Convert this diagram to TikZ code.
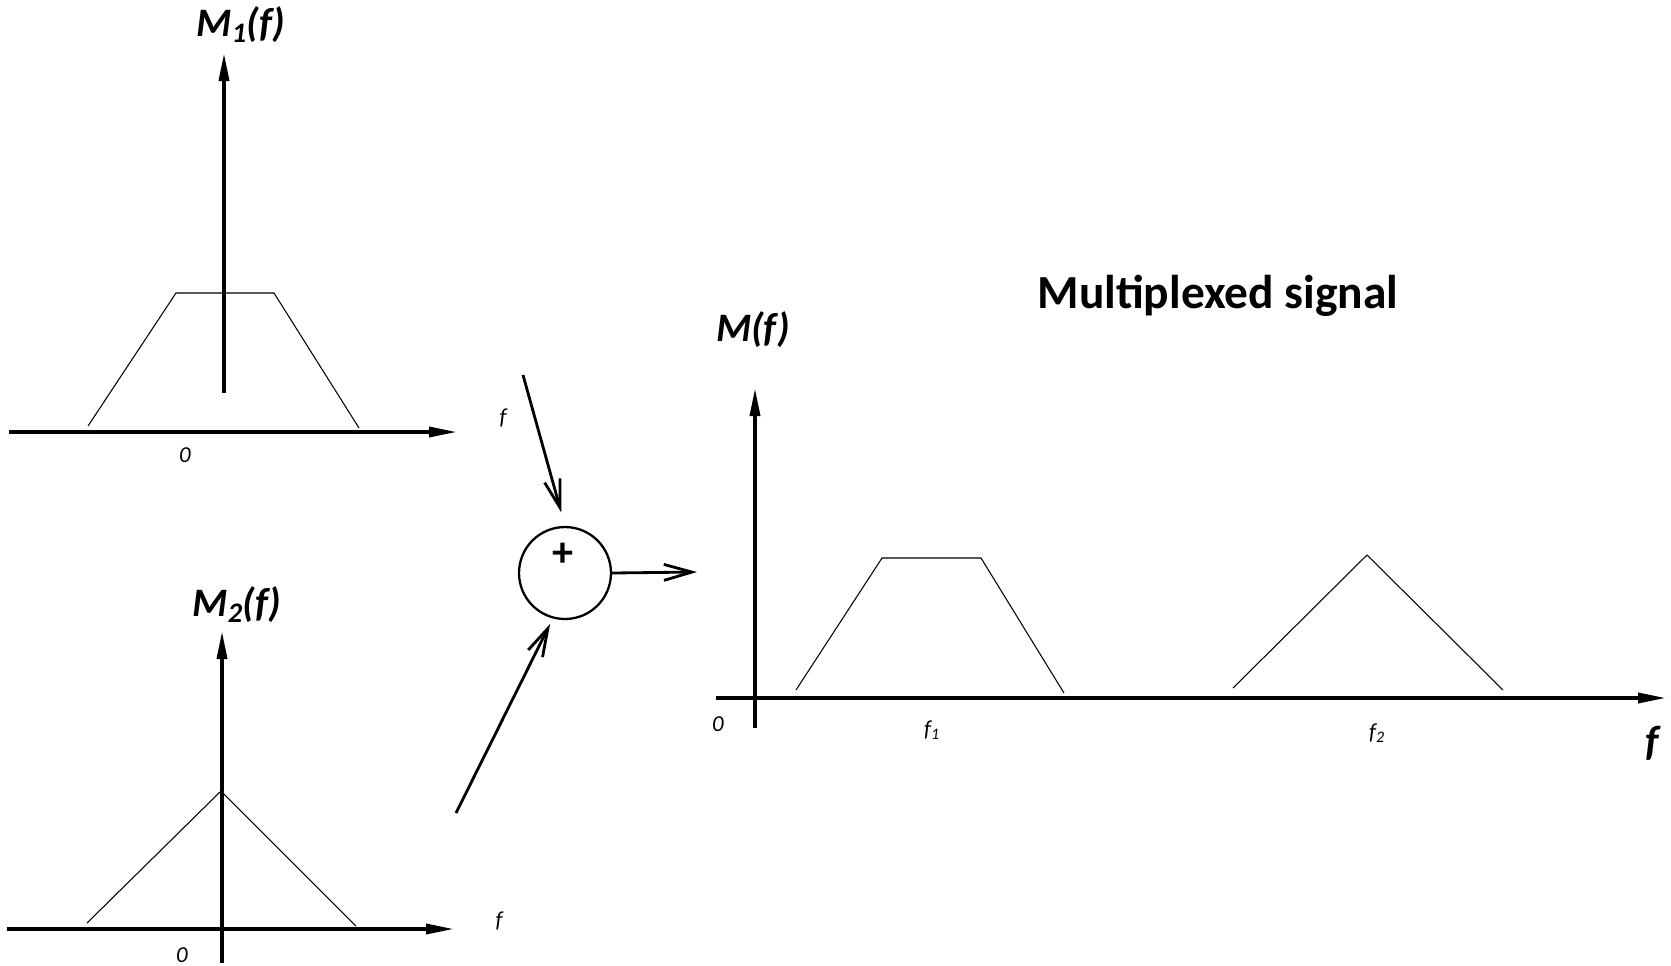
\documentclass[tikz,border=0pt]{standalone}
\usepackage{fontspec}
\setmainfont{Carlito}
\usetikzlibrary{arrows.meta,positioning,calc}

\tikzset{
  axisline/.style={line width=2pt,-{Triangle[length=5.6mm,width=2mm]}},
  spectrum/.style={line width=0.6pt},
  feed/.style={line width=1.6pt,-{Straight Barb[length=5.6mm,width=3.2mm]}},
  adder/.style={circle,draw,line width=1.3pt,minimum size=1.84cm,inner sep=0pt},
  biglabel/.style={font=\fontsize{23}{27}\selectfont\bfseries\itshape,anchor=base},
  ticklabel/.style={font=\fontsize{13}{15}\selectfont\itshape},
}

\begin{document}
\begin{tikzpicture}[x=0.02cm,y=-0.02cm]
  \useasboundingbox (0,0) rectangle (1671,965);
  % upper spectrum M1
  \coordinate (h1s) at (9,432);   \coordinate (h1e) at (457,432);
  \coordinate (v1s) at (224,393); \coordinate (v1e) at (224,53);
  \draw[axisline] (h1s) -- (h1e);
  \draw[axisline] (v1s) -- (v1e);
  \draw[spectrum] (88,426) -- (176,293) -- (274,293) -- (359,428);
  \node[biglabel] (m1) at (241,36) {M\textsubscript{1}(f)};
  \node[ticklabel] (z1) at (185,455) {0};
  \node[ticklabel] (f1ax) at (503,418) {f};
  % lower spectrum M2
  \coordinate (h2s) at (7,929);   \coordinate (h2e) at (454,929);
  \coordinate (v2s) at (222,963); \coordinate (v2e) at (222,631);
  \draw[axisline] (h2s) -- (h2e);
  \draw[axisline] (v2s) -- (v2e);
  \draw[spectrum] (87,923) -- (221,791) -- (356,926);
  \node[biglabel] (m2) at (237,616) {M\textsubscript{2}(f)};
  \node[ticklabel] (z2) at (182,955) {0};
  \node[ticklabel] (f2ax) at (499,921) {f};
  % adder
  \node[adder] (sum) at (565,573) {};
  \node[font=\fontsize{24}{26}\selectfont\bfseries] (plus) at ($(sum.center)+(-2,-18)$) {+};
  \coordinate (in1) at (523,375);
  \coordinate (in2) at (456,813);
  \coordinate (out) at (697,572);
  \draw[feed,shorten >=0.28cm] (in1) -- (sum.north);
  \draw[feed,shorten >=0.12cm] (in2) -- (sum.-105);
  \draw[feed] (sum.east) -- (out);
  % multiplexed spectrum
  \coordinate (hs) at (716,698);  \coordinate (he) at (1666,698);
  \coordinate (vs) at (755,728);  \coordinate (ve) at (755,388);
  \draw[axisline] (hs) -- (he);
  \draw[axisline] (vs) -- (ve);
  \draw[spectrum] (796,690) -- (882,558) -- (981,558) -- (1064,693);
  \draw[spectrum] (1233,688) -- (1367,555) -- (1503,690);
  \node[biglabel] (m) at (753,341) {M(f)};
  \node[font=\fontsize{27}{32}\selectfont\bfseries,anchor=base] (title) at (1218,308) {Multiplexed signal};
  \node[ticklabel] (z) at (718,724) {0};
  \node[ticklabel] (fc1) at (932,730) {f\textsubscript{1}};
  \node[ticklabel] (fc2) at (1377,733) {f\textsubscript{2}};
  \node[font=\fontsize{24}{28}\selectfont\bfseries\itshape] (fbig) at (1652,743) {f};
\end{tikzpicture}
\end{document}
